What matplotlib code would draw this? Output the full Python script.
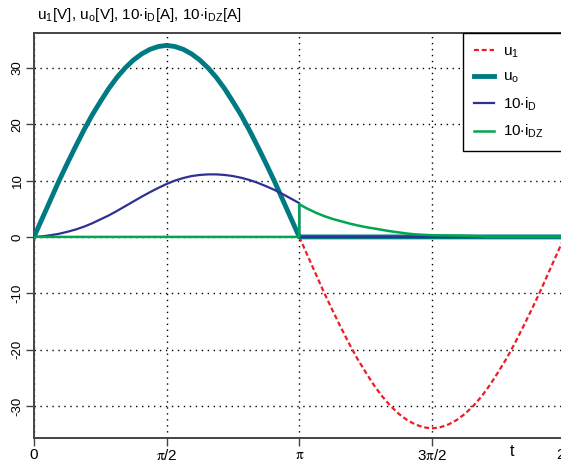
import numpy as np
import matplotlib
matplotlib.use("Agg")
import matplotlib.pyplot as plt

plt.rcParams['font.family'] = ['Liberation Sans', 'DejaVu Sans']
plt.rcParams['mathtext.fontset'] = 'stix'

# time grid: 0 .. 2*pi in steps of pi/32
t = np.arange(65) * np.pi / 32

# input voltage u1 [V]
u1 = [0, 3.3, 6.6, 9.9, 13.0, 16.0, 18.9, 21.6, 24.0, 26.3, 28.3, 30.0, 31.4, 32.5, 33.3, 33.8,
      34.0, 33.8, 33.3, 32.5, 31.4, 30.0, 28.3, 26.3, 24.0, 21.6, 18.9, 16.0, 13.0, 9.9, 6.6, 3.3,
      0, -3.3, -6.6, -9.9, -13.0, -16.0, -18.9, -21.6, -24.0, -26.3, -28.3, -30.0, -31.4, -32.5,
      -33.3, -33.8, -34.0, -33.8, -33.3, -32.5, -31.4, -30.0, -28.3, -26.3, -24.0, -21.6, -18.9,
      -16.0, -13.0, -9.9, -6.6, -3.3, 0]
# output voltage uo [V]: follows u1 in the first half-period, zero afterwards
uo = [0, 3.3, 6.6, 9.9, 13.0, 16.0, 18.9, 21.6, 24.0, 26.3, 28.3, 30.0, 31.4, 32.5, 33.3, 33.8,
      34.0, 33.8, 33.3, 32.5, 31.4, 30.0, 28.3, 26.3, 24.0, 21.6, 18.9, 16.0, 13.0, 9.9, 6.6, 3.3,
      0, 0, 0, 0, 0, 0, 0, 0, 0, 0, 0, 0, 0, 0, 0, 0, 0, 0, 0, 0, 0, 0, 0, 0, 0, 0, 0, 0, 0, 0,
      0, 0, 0]
# 10 * diode current iD [A]: conducting half-period, then zero
iD_on = [0, 0.1, 0.3, 0.55, 0.9, 1.3, 1.8, 2.4, 3.1, 3.8, 4.6, 5.45, 6.3, 7.15, 7.95, 8.7, 9.4,
         10.0, 10.45, 10.8, 11.0, 11.1, 11.1, 11.0, 10.8, 10.5, 10.1, 9.6, 9.0, 8.35, 7.6, 6.8, 6.0]
iD_off = [0] * 23
# 10 * freewheeling diode current iDZ [A]: zero, then decaying after pi
iDZ_off = [0] * 33
iDZ_on = [5.8, 5.0, 4.3, 3.7, 3.2, 2.8, 2.4, 2.05, 1.75, 1.5, 1.25, 1.0, 0.8, 0.6, 0.45, 0.37,
          0.3, 0.27, 0.25, 0.22, 0.2, 0.15, 0.1, 0.05, 0.05, 0.05, 0.05, 0.05, 0.05, 0.05, 0.05,
          0.05, 0.05]

xtick_labels = ['0', r'$\mathrm{\pi}$/2', r'$\mathrm{\pi}$', r'3$\mathrm{\pi}$/2', r'2$\mathrm{\pi}$']
yticks = [-30, -20, -10, 0, 10, 20, 30]

c_red = '#ee1c25'
c_teal = '#007a82'
c_blue = '#2e3192'
c_green = '#00a651'

fig = plt.figure(figsize=(5.61, 4.63), dpi=100)
ax = fig.add_axes([34 / 561, 1 - 438 / 463, 530.5 / 561, 405 / 463])

ax.plot(t, u1, color=c_red, lw=1.6, ls=(0, (2.2, 1.3)), label=r'u$_\mathregular{1}$', zorder=3)
ax.plot(t, uo, color=c_teal, lw=3.5, label=r'u$_\mathregular{o}$', zorder=4)
ax.plot(np.concatenate([t[:33], t[32:55]]), iD_on + iD_off, color=c_blue, lw=1.6,
        label=r'10$\cdot$i$_\mathregular{D}$', zorder=5)
ax.plot(np.concatenate([t[:33], t[32:]]), iDZ_off + iDZ_on, color=c_green, lw=1.8,
        label=r'10$\cdot$i$_\mathregular{DZ}$', zorder=6)

ax.set_xlim(0, 2 * np.pi)
ax.set_ylim(-35.7, 36.2)
ax.set_xticks(np.arange(5) * np.pi / 2)
ax.set_xticklabels(xtick_labels, fontsize=11)
ax.set_yticks(yticks)
ax.set_yticklabels([str(v) for v in yticks], fontsize=9.5, rotation=90, va='center')
ax.tick_params(direction='out', length=6, width=1, color='#444444')
ax.tick_params(axis='x', pad=1.5)
ax.tick_params(axis='y', pad=1.5)

ax.grid(True, color='black', ls=(0, (1, 3.3)), lw=1)
for s in ax.spines.values():
    s.set_color('#444444')
    s.set_linewidth(1.4)

fig.text(37 / 561, 1 - 15 / 463,
         r'u$_\mathregular{1}$[V], u$_\mathregular{o}$[V], 10$\cdot$i$_\mathregular{D}$[A], 10$\cdot$i$_\mathregular{DZ}$[A]',
         fontsize=11, va='center', ha='left')
fig.text(512 / 561, 1 - 452 / 463, 't', fontsize=11.5, va='center', ha='center')

leg = ax.legend(loc='upper left', bbox_to_anchor=(463 / 561, 1 - 33 / 463, 120 / 561, 0),
                bbox_transform=fig.transFigure, borderaxespad=0, fancybox=False, mode='expand',
                edgecolor='black', framealpha=1, fontsize=11, handlelength=1.3,
                labelspacing=0.68, borderpad=0.75, handletextpad=0.6)
leg.get_frame().set_linewidth(1.0)

fig.savefig('out.png', dpi=100)
